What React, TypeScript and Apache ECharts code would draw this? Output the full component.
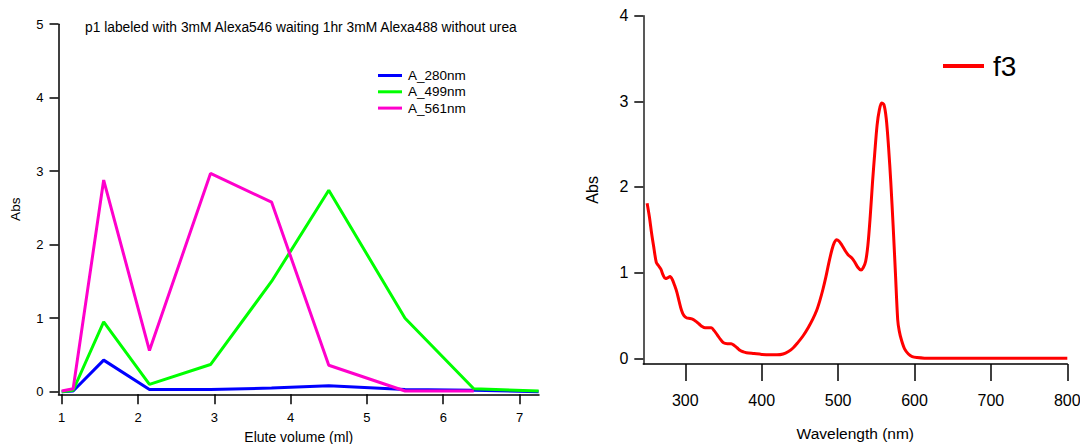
import React, { useEffect, useRef } from "react";
import * as echarts from "echarts";

// ---------- Left chart data ----------
const chartTitle = "p1 labeled with 3mM Alexa546 waiting 1hr 3mM Alexa488 without urea";
const eluteVolume = [1.0, 1.15, 1.55, 2.15, 2.95, 3.75, 4.5, 5.5, 6.4, 7.25];
const a280 = [0.0, 0.01, 0.43, 0.03, 0.03, 0.05, 0.08, 0.03, 0.02, 0.0];
const a499 = [0.0, 0.02, 0.95, 0.1, 0.37, 1.5, 2.74, 1.0, 0.04, 0.01];
const a561 = [0.01, 0.04, 2.88, 0.56, 2.97, 2.58, 0.36, 0.01, 0.01];
const leftNames = ["A_280nm", "A_499nm", "A_561nm"];
const leftXTicks = [1, 2, 3, 4, 5, 6, 7];
const leftYTicks = [0, 1, 2, 3, 4, 5];

// ---------- Right chart data ----------
const wavelength = [
  250, 253, 256, 259, 262, 265, 268, 271, 274, 277, 280, 283, 286, 289, 292, 295, 298,
  302, 306, 310, 314, 318, 322, 326, 330, 334, 338, 342, 346, 350, 355, 360, 364, 368,
  372, 376, 380, 390, 400, 410, 420, 428, 435, 441, 447, 454, 461, 467, 472, 476, 480,
  484, 488, 492, 495, 498, 501, 505, 509, 513, 518, 522, 526, 530, 533, 536, 539, 542,
  545, 548, 551, 554, 557, 560, 563, 566, 569, 572, 575, 578, 580, 583, 587, 592, 597,
  603, 620, 650, 700, 750, 800,
];
const f3 = [
  1.81, 1.65, 1.45, 1.28, 1.12, 1.08, 1.04, 0.97, 0.93, 0.94, 0.955, 0.92, 0.85, 0.77, 0.66, 0.56, 0.5,
  0.47, 0.465, 0.455, 0.43, 0.4, 0.37, 0.355, 0.355, 0.355, 0.32, 0.27, 0.22, 0.18, 0.17, 0.17, 0.15, 0.12,
  0.09, 0.075, 0.065, 0.055, 0.045, 0.04, 0.04, 0.05, 0.08, 0.12, 0.18, 0.26, 0.36, 0.46, 0.56, 0.67, 0.8,
  0.95, 1.12, 1.27, 1.35, 1.385, 1.37, 1.32, 1.26, 1.21, 1.17, 1.12, 1.06, 1.03, 1.06, 1.13, 1.32, 1.65,
  2.05, 2.4, 2.72, 2.9, 2.98, 2.96, 2.8, 2.47, 2.05, 1.55, 1.0, 0.45, 0.32, 0.21, 0.11, 0.05, 0.02,
  0.01, 0.0, 0.0, 0.0, 0.0, 0.0,
];
const rightXTicks = [300, 400, 500, 600, 700, 800];
const rightYTicks = [0, 1, 2, 3, 4];

export default function App() {
  const ref = useRef<HTMLDivElement>(null);

  useEffect(() => {
    if (!ref.current) return;
    const chart = echarts.init(ref.current, null, { renderer: "svg" });
    const leftFont = "'Liberation Sans', Arial, sans-serif";
    const rightFont = "'Liberation Sans Narrow', 'Arial Narrow', 'Liberation Sans', Arial, sans-serif";
    const pair = (xs: number[], ys: number[]) => ys.map((y, i) => [xs[i], y]);

    chart.setOption({
      animation: false,
      backgroundColor: "#ffffff",
      title: {
        text: chartTitle,
        left: 85,
        top: 20,
        padding: 0,
        textStyle: { fontFamily: leftFont, fontSize: 13.8, fontWeight: "normal", color: "#000" },
      },
      legend: [
        {
          data: leftNames,
          orient: "vertical",
          left: 378,
          top: 68.5,
          padding: 0,
          icon: "rect",
          itemWidth: 24,
          itemHeight: 3,
          itemGap: 2.3,
          textStyle: { fontFamily: leftFont, fontSize: 13.5, color: "#000", padding: [0, 0, 0, 1] },
        },
        {
          data: ["f3"],
          left: 943,
          top: 52,
          padding: 0,
          icon: "rect",
          itemWidth: 41,
          itemHeight: 4,
          textStyle: { fontFamily: rightFont, fontSize: 28, color: "#000", padding: [0, 0, 0, 4] },
        },
      ],
      grid: [
        { left: 58.5, top: 24.2, width: 480.5, height: 370.1, containLabel: false, outerBoundsMode: "none" },
        { left: 643.3, top: 15.7, width: 424, height: 348.3, containLabel: false, outerBoundsMode: "none" },
      ],
      xAxis: [
        {
          type: "value",
          gridIndex: 0,
          min: 0.958,
          max: 7.255,
          name: "Elute volume (ml)",
          nameLocation: "middle",
          nameGap: 36,
          nameTextStyle: { fontFamily: leftFont, fontSize: 14, color: "#000" },
          axisLine: { show: true, onZero: false, lineStyle: { color: "#000", width: 1.5 } },
          axisTick: { show: true, length: 10, customValues: leftXTicks, lineStyle: { color: "#000", width: 1.5 } },
          axisLabel: { customValues: leftXTicks, margin: 17, fontFamily: leftFont, fontSize: 13, color: "#000" },
          splitLine: { show: false },
        },
        {
          type: "value",
          gridIndex: 1,
          min: 245,
          max: 800,
          name: "Wavelength (nm)",
          nameLocation: "middle",
          nameGap: 61,
          nameTextStyle: { fontFamily: rightFont, fontSize: 15.5, color: "#000" },
          axisLine: { show: true, onZero: false, lineStyle: { color: "#000", width: 1.5 } },
          axisTick: { show: true, length: 17, customValues: rightXTicks, lineStyle: { color: "#000", width: 1.5 } },
          axisLabel: { customValues: rightXTicks, margin: 28, fontFamily: rightFont, fontSize: 16, color: "#000" },
          splitLine: { show: false },
        },
      ],
      yAxis: [
        {
          type: "value",
          gridIndex: 0,
          min: -0.035,
          max: 5,
          name: "Abs",
          nameLocation: "middle",
          nameGap: 36,
          nameRotate: 90,
          nameTextStyle: { fontFamily: leftFont, fontSize: 13.5, color: "#000" },
          axisLine: { show: true, onZero: false, lineStyle: { color: "#000", width: 1.5 } },
          axisTick: { show: true, length: 9, customValues: leftYTicks, lineStyle: { color: "#000", width: 1.5 } },
          axisLabel: { customValues: leftYTicks, margin: 15, fontFamily: leftFont, fontSize: 13, color: "#000" },
          splitLine: { show: false },
        },
        {
          type: "value",
          gridIndex: 1,
          min: -0.067,
          max: 4,
          name: "Abs",
          nameLocation: "middle",
          nameGap: 43,
          nameRotate: 90,
          nameTextStyle: { fontFamily: rightFont, fontSize: 16, color: "#000" },
          axisLine: { show: true, onZero: false, lineStyle: { color: "#222", width: 1.5 } },
          axisTick: { show: true, length: 9, customValues: rightYTicks, lineStyle: { color: "#000", width: 1.5 } },
          axisLabel: { customValues: rightYTicks, margin: 15, fontFamily: rightFont, fontSize: 16, color: "#000" },
          splitLine: { show: false },
        },
      ],
      series: [
        {
          name: "A_280nm",
          type: "line",
          xAxisIndex: 0,
          yAxisIndex: 0,
          data: pair(eluteVolume, a280),
          symbol: "none",
          color: "#0000ff",
          lineStyle: { color: "#0000ff", width: 3 },
        },
        {
          name: "A_499nm",
          type: "line",
          xAxisIndex: 0,
          yAxisIndex: 0,
          data: pair(eluteVolume, a499),
          symbol: "none",
          color: "#00ff00",
          lineStyle: { color: "#00ff00", width: 3 },
        },
        {
          name: "A_561nm",
          type: "line",
          xAxisIndex: 0,
          yAxisIndex: 0,
          data: pair(eluteVolume, a561),
          symbol: "none",
          color: "#ff00cc",
          lineStyle: { color: "#ff00cc", width: 3 },
        },
        {
          name: "f3",
          type: "line",
          xAxisIndex: 1,
          yAxisIndex: 1,
          data: pair(wavelength, f3),
          symbol: "none",
          smooth: 0.3,
          color: "#ff0000",
          lineStyle: { color: "#ff0000", width: 3 },
        },
      ],
    });

    return () => chart.dispose();
  }, []);

  return (
    <div
      ref={ref}
      style={{ position: "fixed", left: 0, top: 0, width: 1080, height: 444, background: "#fff" }}
    />
  );
}
